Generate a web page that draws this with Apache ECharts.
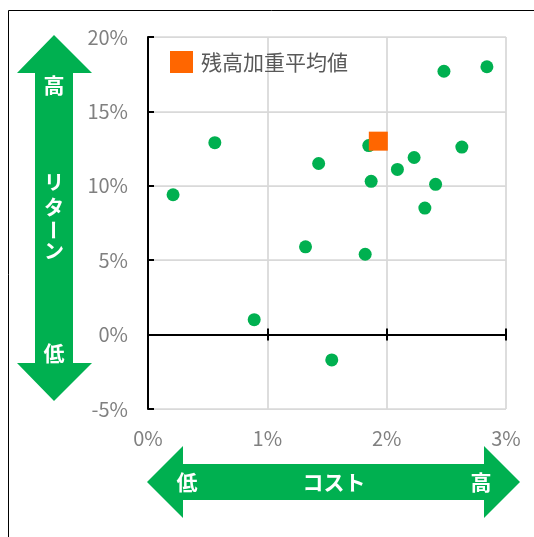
<!DOCTYPE html>
<html><head><meta charset="utf-8">
<script src="https://cdn.jsdelivr.net/npm/echarts@6/dist/echarts.min.js"></script>
<style>html,body{margin:0;padding:0;background:#fff}#c{width:534px;height:537px}</style>
</head><body><div id="c"></div>
<script>
// cost (%) and return (%) of individual funds
var costs = [0.21, 0.56, 0.89, 1.32, 1.43, 1.54, 1.82, 1.85, 1.87, 2.09, 2.23, 2.32, 2.41, 2.48, 2.63, 2.84];
var returns = [9.4, 12.9, 1.0, 5.9, 11.5, -1.7, 5.4, 12.7, 10.3, 11.1, 11.9, 8.5, 10.1, 17.7, 12.6, 18.0];
// weighted average
var avgCost = [1.93];
var avgReturn = [13.0];
var avgName = '残高加重平均値';
var xTicks = [0, 1, 2, 3];
var yTicks = [-5, 0, 5, 10, 15, 20];

var fundData = costs.map(function (c, i) { return [c, returns[i]]; });
var avgData = avgCost.map(function (c, i) { return [c, avgReturn[i]]; });

var JP = '"Noto Sans CJK JP", "Noto Sans", sans-serif';
var W = 534, H = 537;
var G = {left: 148, right: 28, top: 37, bottom: 128};
var xMin = xTicks[0], xMax = xTicks[xTicks.length - 1];
var yMin = yTicks[0], yMax = yTicks[yTicks.length - 1];
var plotH = H - G.top - G.bottom;
var zeroOffset = -plotH * (0 - yMin) / (yMax - yMin);
var gridC = '#d9d9d9';
var chart = echarts.init(document.getElementById('c'));
chart.setOption({
  animation: false,
  backgroundColor: '#fff',
  grid: G,
  legend: {
    data: [avgName], left: 170, top: 51, padding: 0, itemWidth: 23, itemHeight: 22,
    icon: 'rect', textStyle: {fontSize: 21, color: '#595959', fontFamily: JP, padding: [0, 0, 0, 3]}
  },
  xAxis: [
    {
      type: 'value', min: xMin, max: xMax, interval: 1,
      axisLine: {show: true, onZero: true, lineStyle: {color: '#000', width: 2}},
      axisTick: {show: true, inside: false, length: 6, lineStyle: {color: '#000', width: 2}},
      splitLine: {show: true, lineStyle: {color: gridC, width: 1.75}},
      axisLabel: {show: true, formatter: '{value}%', color: '#808080', fontSize: 20, fontFamily: JP, margin: 19}
    },
    {
      type: 'value', min: xMin, max: xMax, interval: 1, position: 'bottom', offset: zeroOffset,
      axisLine: {show: false, onZero: false},
      axisTick: {show: true, inside: true, length: 6, lineStyle: {color: '#000', width: 2}},
      splitLine: {show: false},
      axisLabel: {show: false}
    }
  ],
  yAxis: {
    type: 'value', min: yMin, max: yMax, interval: 5,
    axisLine: {show: true, lineStyle: {color: '#000', width: 2}},
    axisTick: {show: true, inside: true, length: 6, lineStyle: {color: '#000', width: 2}},
    splitLine: {show: true, lineStyle: {color: gridC, width: 1.75}},
    axisLabel: {formatter: '{value}%', color: '#808080', fontSize: 20, fontFamily: JP, margin: 20}
  },
  series: [
    {
      name: 'ファンド', type: 'scatter', xAxisIndex: 0, data: fundData,
      symbol: 'circle', symbolSize: 13, itemStyle: {color: '#00B050', opacity: 1}, z: 3
    },
    {
      name: avgName, type: 'scatter', xAxisIndex: 0, data: avgData,
      symbol: 'rect', symbolSize: 19, itemStyle: {color: '#FF6600', opacity: 1}, z: 4
    }
  ],
  graphic: [
    {type: 'rect', shape: {x: 8.5, y: 10.5, width: 700, height: 700}, style: {fill: 'none', stroke: '#000', lineWidth: 1}, silent: true, z: -1},
    // vertical double arrow (リターン)
    {type: 'polygon', shape: {points: [[54, 35], [92, 73], [73, 73], [73, 363], [92, 363], [54, 401], [17, 363], [35, 363], [35, 73], [17, 73]]}, style: {fill: '#00B050'}, z: 1},
    {type: 'text', x: 54, y: 85, style: {text: '高', fill: '#fff', font: 'bold 21px ' + JP, align: 'center', verticalAlign: 'middle'}, z: 2},
    {type: 'text', x: 54, y: 182, style: {text: 'リ', fill: '#fff', font: 'bold 20px ' + JP, align: 'center', verticalAlign: 'middle'}, z: 2},
    {type: 'text', x: 54, y: 207, style: {text: 'タ', fill: '#fff', font: 'bold 20px ' + JP, align: 'center', verticalAlign: 'middle'}, z: 2},
    {type: 'group', x: 54, y: 230, rotation: Math.PI / 2, children: [
      {type: 'text', x: 0, y: 0, style: {text: 'ー', fill: '#fff', font: 'bold 20px ' + JP, align: 'center', verticalAlign: 'middle'}, z: 2}
    ]},
    {type: 'text', x: 54, y: 251, style: {text: 'ン', fill: '#fff', font: 'bold 20px ' + JP, align: 'center', verticalAlign: 'middle'}, z: 2},
    {type: 'text', x: 54, y: 353, style: {text: '低', fill: '#fff', font: 'bold 21px ' + JP, align: 'center', verticalAlign: 'middle'}, z: 2},
    // horizontal double arrow (コスト)
    {type: 'polygon', shape: {points: [[147, 482], [183, 446], [183, 464], [484, 464], [484, 446], [520, 482], [484, 518], [484, 500], [183, 500], [183, 518]]}, style: {fill: '#00B050'}, z: 1},
    {type: 'text', x: 187, y: 482, style: {text: '低', fill: '#fff', font: 'bold 21px ' + JP, align: 'center', verticalAlign: 'middle'}, z: 2},
    {type: 'text', x: 334, y: 482, style: {text: 'コスト', fill: '#fff', font: 'bold 21px ' + JP, align: 'center', verticalAlign: 'middle'}, z: 2},
    {type: 'text', x: 481, y: 482, style: {text: '高', fill: '#fff', font: 'bold 21px ' + JP, align: 'center', verticalAlign: 'middle'}, z: 2}
  ]
});
</script></body></html>
